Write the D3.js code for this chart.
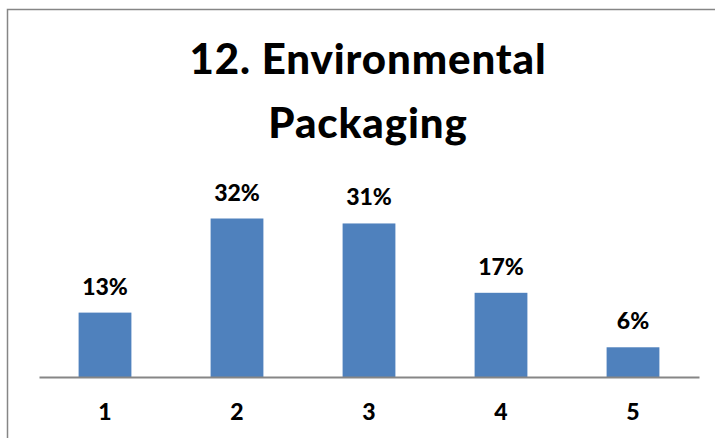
<!DOCTYPE html>
<html>
<head>
<meta charset="utf-8">
<script src="https://cdn.jsdelivr.net/npm/d3@7"></script>
<style>
  html, body { margin: 0; padding: 0; background: #fff; }
  svg { display: block; }
  text { font-family: Lato, "Open Sans", sans-serif; font-weight: 900; fill: #000; }
</style>
</head>
<body>
<svg id="chart" width="715" height="438"></svg>
<script>
const categories = ["1", "2", "3", "4", "5"];
const values = [0.13, 0.32, 0.31, 0.17, 0.06];
const valueLabels = ["13%", "32%", "31%", "17%", "6%"];
const titleLines = ["12. Environmental", "Packaging"];

const svg = d3.select("#chart");

// outer chart border (extends past right/bottom edges as in reference)
svg.append("rect")
  .attr("x", 7.5).attr("y", 9.5)
  .attr("width", 730).attr("height", 450)
  .attr("fill", "#fff")
  .attr("stroke", "#868686")
  .attr("stroke-width", 1.5);

const x = d3.scaleBand()
  .domain(categories)
  .range([39, 699])
  .paddingInner(0.6)
  .paddingOuter(0.3);

const y = d3.scaleLinear()
  .domain([0, 0.35])
  .range([377, 377 - 0.35 * 495.3]);

// title
svg.append("g").selectAll("text")
  .data(titleLines)
  .join("text")
  .attr("x", 368)
  .attr("y", (d, i) => 74 + i * 64)
  .attr("text-anchor", "middle")
  .style("font-size", "42px")
  .style("letter-spacing", "0.9px")
  .text(d => d);

// bars
svg.append("g").selectAll("rect")
  .data(values)
  .join("rect")
  .attr("x", (d, i) => x(categories[i]))
  .attr("y", d => y(d))
  .attr("width", x.bandwidth())
  .attr("height", d => y(0) - y(d))
  .attr("fill", "#4F81BD");

// value labels
svg.append("g").selectAll("text")
  .data(values)
  .join("text")
  .attr("x", (d, i) => x(categories[i]) + x.bandwidth() / 2)
  .attr("y", d => y(d) - 18)
  .attr("text-anchor", "middle")
  .style("font-size", "23px")
  .text((d, i) => valueLabels[i]);

// x axis
const xAxis = svg.append("g")
  .attr("transform", `translate(0,${y(0)})`)
  .call(d3.axisBottom(x).tickSize(0).tickPadding(0));
xAxis.select(".domain")
  .attr("stroke", "#868686")
  .attr("stroke-width", 2);
xAxis.selectAll(".tick text")
  .attr("y", 43)
  .attr("dy", null)
  .style("font-size", "23px")
  .style("font-family", "Lato, 'Open Sans', sans-serif")
  .style("font-weight", "900")
  .attr("fill", "#000");
</script>
</body>
</html>
